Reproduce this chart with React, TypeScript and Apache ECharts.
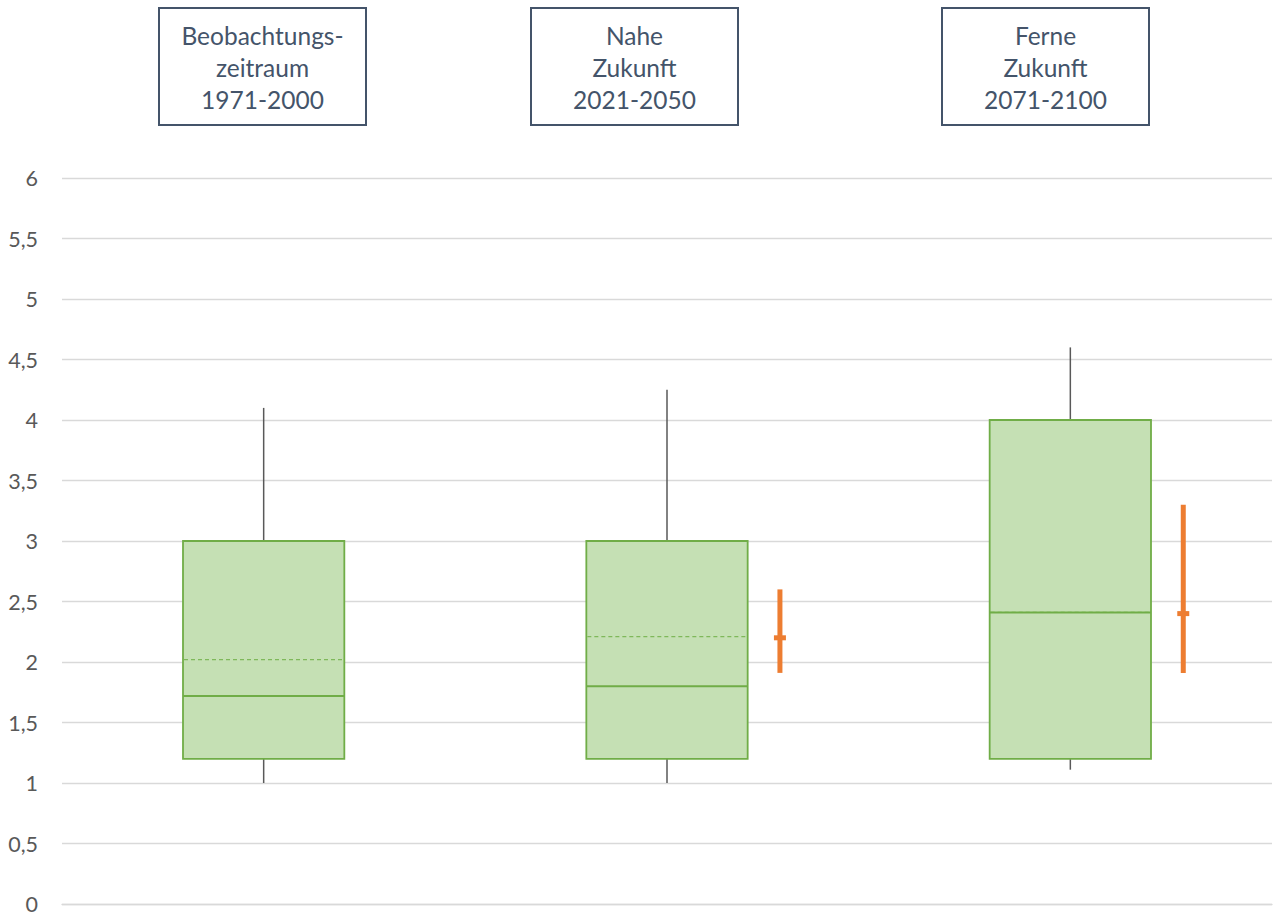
import React, { useEffect, useRef } from "react";
import * as echarts from "echarts";

const categories = ["Beobachtungszeitraum 1971-2000", "Nahe Zukunft 2021-2050", "Ferne Zukunft 2071-2100"];
const headerTexts = ["Beobachtungs-\nzeitraum\n1971-2000", "Nahe\nZukunft\n2021-2050", "Ferne\nZukunft\n2071-2100"];
const whiskerMin = [1.0, 1.0, 1.11];
const quartile1 = [1.2, 1.2, 1.2];
const medianVals = [1.72, 1.8, 2.41];
const meanVals = [2.02, 2.21, 2.41];
const quartile3 = [3.0, 3.0, 4.0];
const whiskerMax = [4.1, 4.25, 4.6];
const rangeLow = [null, 1.91, 1.91];
const rangeMid = [null, 2.2, 2.4];
const rangeHigh = [null, 2.6, 3.3];
const yTicks = { min: 0, max: 6, interval: 0.5 };

const boxData = categories.map((_, i) => [
  i, whiskerMin[i], quartile1[i], medianVals[i], meanVals[i], quartile3[i], whiskerMax[i],
]);
const rangeData = categories
  .map((_, i) => [i, rangeLow[i], rangeMid[i], rangeHigh[i]])
  .filter((d) => d[1] != null);

const headerX = [158, 530, 941];

export default function App() {
  const ref = useRef<HTMLDivElement>(null);
  useEffect(() => {
    if (!ref.current) return;
    const chart = echarts.init(ref.current, null, { renderer: "svg" });
    const whiskerColor = "#595959";
    const green = "#70ad47";
    const option: any = {
      animation: false,
      backgroundColor: "#ffffff",
      grid: { left: 62, right: 2, top: 178, bottom: 12, containLabel: false },
      xAxis: {
        type: "category",
        data: categories,
        boundaryGap: true,
        axisLabel: { show: false },
        axisTick: { show: false },
        axisLine: { show: true, lineStyle: { color: "#d9d9d9", width: 1.3 } },
        splitLine: { show: false },
      },
      yAxis: {
        type: "value",
        min: yTicks.min,
        max: yTicks.max,
        interval: yTicks.interval,
        axisLine: { show: false },
        axisTick: { show: false },
        axisLabel: {
          color: "#595959",
          fontSize: 21.5,
          fontFamily: "Lato, 'Open Sans', sans-serif",
          margin: 24,
          formatter: (v: number) => String(v).replace(".", ","),
        },
        splitLine: { lineStyle: { color: "#d9d9d9", width: 1.3 } },
      },
      series: [
        {
          type: "custom",
          data: boxData,
          encode: { x: 0, y: [1, 2, 3, 4, 5, 6] },
          renderItem: (params: any, api: any) => {
            const c = api.value(0);
            const cx = api.coord([c, 0])[0];
            const bw = api.size([1, 0])[0] * 0.4;
            const y = (v: number) => api.coord([c, v])[1];
            const x0 = cx - bw / 2;
            const x1 = cx + bw / 2;
            return {
              type: "group",
              children: [
                {
                  type: "line",
                  shape: { x1: cx, y1: y(api.value(1)), x2: cx, y2: y(api.value(2)) },
                  style: { stroke: whiskerColor, lineWidth: 1.5 },
                },
                {
                  type: "line",
                  shape: { x1: cx, y1: y(api.value(5)), x2: cx, y2: y(api.value(6)) },
                  style: { stroke: whiskerColor, lineWidth: 1.5 },
                },
                {
                  type: "rect",
                  shape: { x: x0, y: y(api.value(5)), width: bw, height: y(api.value(2)) - y(api.value(5)) },
                  style: { fill: "#c5e0b4", stroke: green, lineWidth: 1.8 },
                },
                {
                  type: "line",
                  shape: { x1: x0 + 1, y1: y(api.value(4)), x2: x1 - 1, y2: y(api.value(4)) },
                  style: { stroke: "#7fb85a", lineWidth: 1.2, lineDash: [4, 3] },
                },
                {
                  type: "line",
                  shape: { x1: x0, y1: y(api.value(3)), x2: x1, y2: y(api.value(3)) },
                  style: { stroke: green, lineWidth: 2 },
                },
              ],
            };
          },
          z: 3,
        },
        {
          type: "custom",
          data: rangeData,
          encode: { x: 0, y: [1, 2, 3] },
          renderItem: (params: any, api: any) => {
            const c = api.value(0);
            const band = api.size([1, 0])[0];
            const cx = api.coord([c, 0])[0] + band * 0.28;
            const y = (v: number) => api.coord([c, v])[1];
            return {
              type: "group",
              children: [
                {
                  type: "line",
                  shape: { x1: cx, y1: y(api.value(1)), x2: cx, y2: y(api.value(3)) },
                  style: { stroke: "#ed7d31", lineWidth: 5 },
                },
                {
                  type: "rect",
                  shape: { x: cx - 6, y: y(api.value(2)) - 2.5, width: 12, height: 5 },
                  style: { fill: "#ed7d31" },
                },
              ],
            };
          },
          z: 4,
        },
      ],
      graphic: headerTexts.map((t, i) => ({
        type: "group",
        left: headerX[i],
        top: 7,
        children: [
          {
            type: "rect",
            shape: { x: 0, y: 0, width: 207, height: 117 },
            style: { fill: "#ffffff", stroke: "#44546a", lineWidth: 2 },
          },
          {
            type: "text",
            x: 103.5,
            y: 59,
            style: {
              text: t,
              fill: "#44546a",
              font: "24.5px Lato, 'Open Sans', sans-serif",
              lineHeight: 32,
              align: "center",
              verticalAlign: "middle",
            },
          },
        ],
      })),
    };
    chart.setOption(option);
    return () => chart.dispose();
  }, []);
  return (
    <div
      ref={ref}
      style={{ position: "absolute", left: 0, top: 0, width: 1274, height: 916 }}
    />
  );
}
